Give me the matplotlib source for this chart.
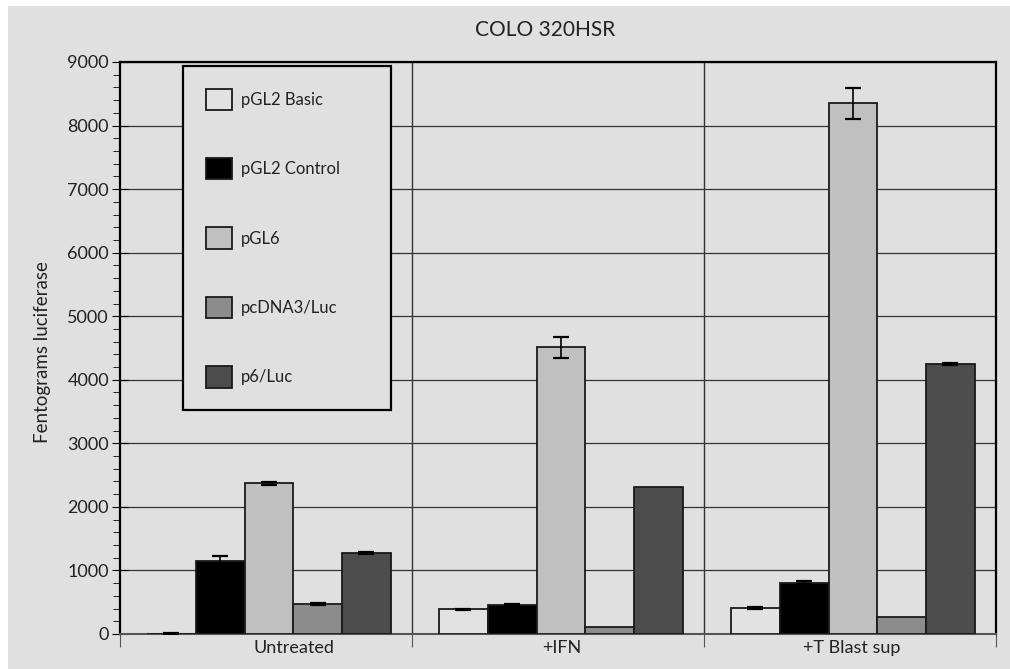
import numpy as np
import matplotlib
matplotlib.use('Agg')
import matplotlib.pyplot as plt
from matplotlib.patches import Rectangle

plt.rcParams['font.family'] = ['Lato', 'DejaVu Sans']

groups = ['Untreated', '+IFN', '+T Blast sup']
series = ['pGL2 Basic', 'pGL2 Control', 'pGL6', 'pcDNA3/Luc', 'p6/Luc']
colors = ['#e2e2e2', '#000000', '#c0c0c0', '#8c8c8c', '#4d4d4d']

values = {
    'pGL2 Basic':   [5, 390, 410],
    'pGL2 Control': [1150, 460, 810],
    'pGL6':         [2370, 4510, 8350],
    'pcDNA3/Luc':   [470, 110, 270],
    'p6/Luc':       [1270, 2310, 4250],
}
errors = {
    'pGL2 Basic':   [5, 10, 10],
    'pGL2 Control': [80, 12, 20],
    'pGL6':         [25, 160, 245],
    'pcDNA3/Luc':   [10, 0, 0],
    'p6/Luc':       [15, 0, 15],
}

bg = '#e0e0e0'
fig = plt.figure(figsize=(10.1, 6.69), dpi=100, facecolor='white')
fig.patches.append(Rectangle((8 / 1010, 0), 1, 1 - 6 / 669, transform=fig.transFigure,
                             facecolor=bg, edgecolor='none', zorder=-10))
ax = fig.add_axes([120 / 1010, 35 / 669, 876 / 1010, 572 / 669])
ax.set_facecolor(bg)

x = np.arange(len(groups))
w = 0.167
for i, s in enumerate(series):
    pos = x + 0.01 + (i - 2) * w
    ax.bar(pos, values[s], width=w, color=colors[i], edgecolor='#1a1a1a',
           linewidth=1.3, label=s, zorder=3)
    err = np.array(errors[s])
    m = err > 0
    ax.errorbar(pos[m], np.array(values[s])[m], yerr=err[m], fmt='none',
                ecolor='black', elinewidth=1.2, capsize=6, capthick=1.6, zorder=4)

ax.set_xlim(-0.5, 2.5)
ax.set_ylim(0, 9000)
ax.set_yticks(np.arange(0, 9001, 1000))
ax.set_yticks(np.arange(0, 9001, 200), minor=True)
ax.yaxis.grid(True, color='#333333', linewidth=0.9, zorder=0)
for b in [0.5, 1.5]:
    ax.axvline(b, color='#333333', linewidth=1.0, zorder=0)

# category labels sit slightly off-centre in the original
ax.set_xticks([-0.5, 0.5, 1.5, 2.5])
ax.set_xticklabels([])
ax.set_xticks([0.094, 1.013, 2.007], minor=True)
ax.set_xticklabels(groups, minor=True, fontsize=13, color='#222222')
ax.tick_params(axis='x', which='major', length=9, direction='out', color='#555555')
ax.tick_params(axis='x', which='minor', length=0, pad=4)
ax.tick_params(axis='y', which='major', length=12, direction='inout', labelsize=13,
               labelcolor='#222222', pad=2)
ax.tick_params(axis='y', which='minor', length=5, direction='out')

for side in ['top', 'right', 'left']:
    ax.spines[side].set_linewidth(1.6)
    ax.spines[side].set_color('black')
ax.spines['bottom'].set_color('#555555')
ax.spines['bottom'].set_linewidth(1.5)

leg = ax.legend(loc='upper left', bbox_to_anchor=(0.072, 0.993, 0.237, 0.0), mode='expand',
                fontsize=12, frameon=True, fancybox=False, edgecolor='black',
                facecolor=bg, framealpha=1, handlelength=1.6, handleheight=1.6,
                labelspacing=2.88, borderpad=1.35, handletextpad=0.5, borderaxespad=0)
leg.get_frame().set_linewidth(1.6)
leg.set_zorder(5)
for t in leg.get_texts():
    t.set_color('#222222')

fig.text(545 / 1010, 1 - 30 / 669, 'COLO 320HSR', ha='center', va='center',
         fontsize=15, color='#222222')
fig.text(43 / 1010, 1 - 352 / 669, 'Fentograms luciferase', ha='center', va='center',
         rotation=90, fontsize=13.5, color='#222222')

fig.savefig('out.png', dpi=100, facecolor='white')
